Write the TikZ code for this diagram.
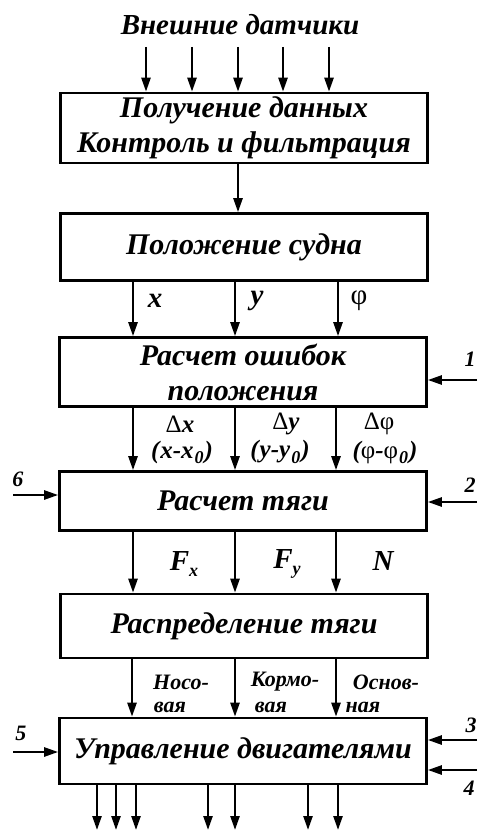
\documentclass[tikz,border=0pt]{standalone}
\usepackage{fontspec}
\setmainfont{Liberation Serif}
\usetikzlibrary{arrows.meta}
\newcommand{\lowidx}[1]{\raisebox{-0.45ex}{\fontsize{18}{18}\selectfont #1}}
\newcommand{\grk}[1]{{\upshape\mdseries #1}}
\tikzset{
  blok/.style={draw, line width=2.6pt, minimum width=367pt, inner sep=0pt,
    font=\fontsize{30}{35}\selectfont\bfseries\itshape, align=center},
  arr/.style={line width=2.4pt, -{Triangle[length=14pt,width=9pt]}},
  lbl/.style={font=\fontsize{29}{32}\selectfont\bfseries\itshape, inner sep=0pt},
  dlt/.style={font=\fontsize{25}{27}\selectfont\bfseries\itshape, inner sep=0pt},
  sml/.style={font=\fontsize{22}{24}\selectfont\bfseries\itshape, inner sep=0pt}
}
\begin{document}
\begin{tikzpicture}[x=1pt, y=-1pt]
\useasboundingbox (0,0) rectangle (479,832);

% Блоки
\node[lbl] (sens) at (240,25) {Внешние датчики};
\node[blok, minimum height=70pt] (get) at (244,128) {Получение данных\\Контроль и фильтрация};
\node[blok, minimum height=67pt] (pos) at (244,247) {Положение судна};
\node[blok, minimum height=69pt] (err) at (243,372) {Расчет ошибок\\положения};
\node[blok, minimum height=59pt] (thr) at (243,501) {Расчет тяги};
\node[blok, minimum height=64pt] (dist) at (244,626) {Распределение тяги};
\node[blok, minimum height=66pt] (eng) at (243,751) {Управление двигателями};

% Датчики
\coordinate (s0) at (240,47);
\foreach \px in {146,192,238,283,329}
  \draw[arr] (s0 -| \px,0) -- (get.north -| \px,0);
\draw[arr] (get.south -| 238,0) -- (pos.north -| 238,0);

% x, y, phi
\foreach \px in {133,235,338}
  \draw[arr] (pos.south -| \px,0) -- (err.north -| \px,0);
\node[lbl] (lx) at (155,301) {x};
\node[lbl] (ly) at (257,301) {y};
\node[lbl] (lf) at (359,301) {\grk{φ}};

% ошибки
\foreach \px in {133,235,336}
  \draw[arr] (err.south -| \px,0) -- (thr.north -| \px,0);
\node[dlt] (dx) at (180,424) {\grk{Δ}x};
\node[dlt] (dx0) at (182,452) {(\hspace{1pt}x-x\hspace{1pt}\lowidx{0}\hspace{1pt})};
\node[dlt] (dy) at (286,424) {\grk{Δ}y};
\node[dlt] (dy0) at (280,452) {(\hspace{1pt}y-y\hspace{1pt}\lowidx{0}\hspace{1pt})};
\node[dlt] (df) at (379,424) {\grk{Δφ}};
\node[dlt] (df0) at (385,452) {(\grk{φ}-\grk{φ}\hspace{1pt}\lowidx{0}\hspace{1pt})};

% силы
\foreach \px in {133,235,336}
  \draw[arr] (thr.south -| \px,0) -- (dist.north -| \px,0);
\node[lbl] (fx) at (184,564) {F\lowidx{x}};
\node[lbl] (fy) at (287,564) {F\lowidx{y}};
\node[lbl] (nn) at (383,561) {N};

% подрулящие
\foreach \px in {132,235,336}
  \draw[arr] (dist.south -| \px,0) -- (eng.north -| \px,0);
\node[sml] (n1) at (181,682) {Носо-};
\node[sml] (n2) at (170,707) {вая};
\node[sml] (k1) at (285,682) {Кормо-};
\node[sml] (k2) at (271,707) {вая};
\node[sml] (o1) at (386,682) {Основ-};
\node[sml] (o2) at (363,707) {ная};

% боковые входы
\coordinate (r1) at (477,380);
\coordinate (r2) at (477,502);
\coordinate (r3) at (477,740);
\coordinate (r4) at (477,770);
\coordinate (l6) at (13,495);
\coordinate (l5) at (13,752);
\draw[arr] (r1) -- (r1 -| err.east);
\draw[arr] (r2) -- (r2 -| thr.east);
\draw[arr] (r3) -- (r3 -| eng.east);
\draw[arr] (r4) -- (r4 -| eng.east);
\draw[arr] (l6) -- (l6 -| thr.west);
\draw[arr] (l5) -- (l5 -| eng.west);
\node[sml] (t1) at (470,359) {1};
\node[sml] (t2) at (470,485) {2};
\node[sml] (t3) at (471,725) {3};
\node[sml] (t4) at (469,788) {4};
\node[sml] (t6) at (18,479) {6};
\node[sml] (t5) at (21,733) {5};

% выходы
\coordinate (e0) at (240,830);
\foreach \px in {97,116,136,208,235,308,338}
  \draw[arr] (eng.south -| \px,0) -- (e0 -| \px,0);
\end{tikzpicture}
\end{document}
